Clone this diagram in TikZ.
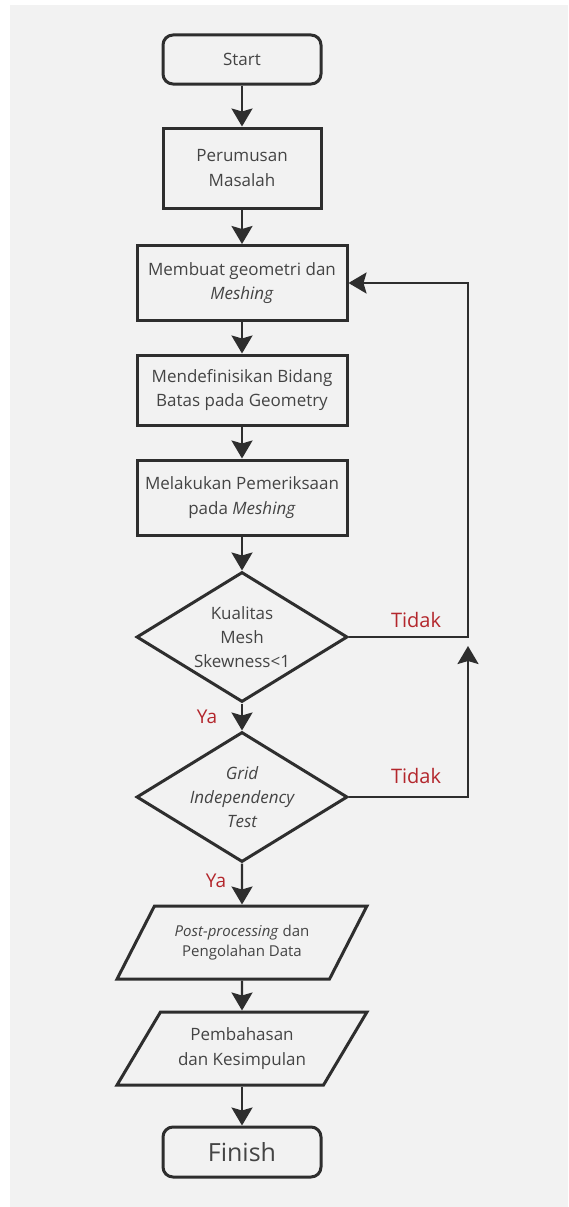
\documentclass[tikz,border=0pt]{standalone}
\usepackage{fontspec}
\setmainfont{Open Sans}
\usepackage{tikz}
\usetikzlibrary{arrows.meta,shapes.geometric,calc}

\definecolor{inkcol}{HTML}{2E2E2E}
\definecolor{txtcol}{HTML}{444444}
\definecolor{redcol}{HTML}{B3262C}
\definecolor{bgcol}{HTML}{F2F2F2}

\tikzset{
	>={Stealth[length=18pt,width=21pt,inset=3pt]}, % arrow tips
	base/.style={draw=inkcol, line width=3pt, text=txtcol, inner sep=0pt, align=center,
		font=\fontsize{17}{24.5}\selectfont},
	term/.style={base, rounded corners=10pt, minimum width=158pt, minimum height=49pt},
	proc/.style={base, minimum width=210pt, minimum height=75pt},
	decision/.style={base, diamond, minimum width=211pt, minimum height=130pt},
	io/.style={base, trapezium, trapezium left angle=50.6, trapezium right angle=129.4,
		trapezium stretches=true, minimum width=250pt, minimum height=73pt},
	flow/.style={->, draw=inkcol, line width=2.4pt},
	lbl/.style={text=redcol, font=\fontsize{20}{24}\selectfont, inner sep=0pt}
}

\begin{document}
\begin{tikzpicture}[x=1pt, y=-1pt]
		% canvas
		\useasboundingbox (0,0) rectangle (568,1207);
		\fill[white] (0,0) rectangle (568,1207);
		\fill[bgcol] (10,5) rectangle (568,1207);
		
		% steps
		\node[term] (start) at (242,59.5) {Start};
		\node[proc, minimum width=158pt, minimum height=80pt] (problem) at (242,168) {Perumusan\\Masalah};
		\node[proc] (geom) at (242,283) {Membuat geometri dan\\\textit{Meshing}};
		\node[proc, minimum height=70pt] (boundary) at (242,390) {Mendefinisikan Bidang\\Batas pada Geometry};
		\node[proc] (check) at (242,497.5) {Melakukan Pemeriksaan\\pada \textit{Meshing}};
		
		% decisions (text set on top)
		\node[decision] (quality) at (242,637) {};
		\node[text=txtcol, align=center, font=\fontsize{17}{24}\selectfont] (qualitytxt) at (quality) {Kualitas\\Mesh\\Skewness<1};
		\node[decision] (gridtest) at (242,797) {};
		\node[text=txtcol, align=center, font=\fontsize{17}{24}\selectfont\itshape] (gridtxt) at (gridtest) {Grid\\Independency\\Test};
		
		% data
		\node[io, font=\fontsize{15}{20}\selectfont] (post) at (242,942.5) {\textit{Post-processing} dan\\Pengolahan Data};
		\node[io] (discuss) at (242,1048.5) {Pembahasan\\dan Kesimpulan};
		\node[term, minimum height=50pt, font=\fontsize{25}{30}\selectfont] (finish) at (242,1152) {Finish};
		
		% main flow
		\draw[flow] (start) -- (problem);
		\draw[flow] (problem) -- (geom);
		\draw[flow] (geom) -- (boundary);
		\draw[flow] (boundary) -- (check);
		\draw[flow] (check) -- (quality);
		\draw[flow] (quality) -- (gridtest);
		\draw[flow] (gridtest) -- (post);
		\draw[flow] (post) -- (discuss);
		\draw[flow] (discuss) -- (finish);
		
		% loop back
		\coordinate (j1) at (468,637);
		\coordinate (j1b) at (468,646);
		\coordinate (j2) at (468,283);
		\draw[flow] (quality.east) -- (j1) -- (j2) -- (geom.east);
		\draw[flow] (gridtest.east) -| (j1b);
		
		% labels
		\node[lbl] (no1) at (416,620) {Tidak};
		\node[lbl] (no2) at (416,776) {Tidak};
		\node[lbl, font=\fontsize{19}{23}\selectfont] (yes1) at (207,717) {Ya};
		\node[lbl, font=\fontsize{19}{23}\selectfont] (yes2) at (216,881) {Ya};
		
	\end{tikzpicture}
\end{document}
